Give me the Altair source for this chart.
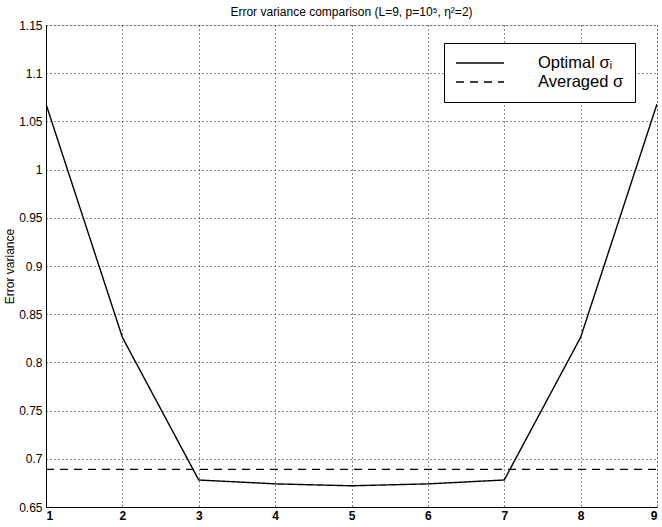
import altair as alt
import pandas as pd

x_vals = [1, 2, 3, 4, 5, 6, 7, 8, 9]
optimal = [1.068, 0.826, 0.678, 0.674, 0.672, 0.674, 0.678, 0.826, 1.068]
averaged = [0.689, 0.689, 0.689, 0.689, 0.689, 0.689, 0.689, 0.689, 0.689]
series_names = ["Optimal σᵢ", "Averaged σ"]
x_ticks = [1, 2, 3, 4, 5, 6, 7, 8, 9]
y_ticks = [0.65, 0.7, 0.75, 0.8, 0.85, 0.9, 0.95, 1.0, 1.05, 1.1, 1.15]

rows = []
for xi, v in zip(x_vals, optimal):
    rows.append({"x": xi, "y": v, "series": series_names[0]})
for xi, v in zip(x_vals, averaged):
    rows.append({"x": xi, "y": v, "series": series_names[1]})
df = pd.DataFrame(rows)

FONT = "Liberation Sans"

chart = alt.Chart(df).mark_line(strokeWidth=1.4, clip=True).encode(
    x=alt.X("x:Q", scale=alt.Scale(domain=[1, 9], nice=False),
            axis=alt.Axis(values=x_ticks, title=None, format="d", labelFontSize=12,
                          labelFontWeight="bold", labelPadding=3, ticks=False,
                          grid=True, gridDash=[1, 3], gridColor="black",
                          gridOpacity=0.9, domainColor="black", labelColor="black")),
    y=alt.Y("y:Q", scale=alt.Scale(domain=[0.65, 1.15], nice=False, zero=False),
            axis=alt.Axis(values=y_ticks, title="Error variance", labelFontSize=12,
                          labelExpr="format(datum.value, '.4~f')",
                          labelPadding=4, ticks=False, titleFontSize=12,
                          titleFontWeight="normal", titlePadding=2,
                          grid=True, gridDash=[1, 3], gridColor="black",
                          gridOpacity=0.9, domainColor="black", labelColor="black",
                          titleColor="black")),
    color=alt.Color("series:N", scale=alt.Scale(domain=series_names, range=["black", "black"]),
                    legend=alt.Legend(title=None, orient="none", legendX=398, legendY=18,
                                      fillColor="white", strokeColor="black", padding=11,
                                      labelFontSize=16.5, labelFont=FONT, labelColor="black",
                                      symbolType="M-1,0H5", symbolSize=256,
                                      symbolStrokeWidth=1.4, labelOffset=65,
                                      rowPadding=1, offset=0)),
    strokeDash=alt.StrokeDash("series:N",
                              scale=alt.Scale(domain=series_names, range=[[1, 0], [8, 6]]),
                              legend=None),
).properties(
    width=611,
    height=482,
    title=alt.TitleParams("Error variance comparison (L=9, p=10⁵, η²=2)",
                          fontSize=12, fontWeight="normal", font=FONT, color="black",
                          offset=0),
    padding={"left": 46, "top": 25, "right": 5, "bottom": 20},
    autosize=alt.AutoSizeParams(type="none"),
).configure_view(
    stroke="black", strokeWidth=1
).configure(
    font=FONT, background="white"
).configure_axis(labelFont=FONT, titleFont=FONT)

chart.save("out.html", embed_options={"renderer": "svg", "actions": False})
